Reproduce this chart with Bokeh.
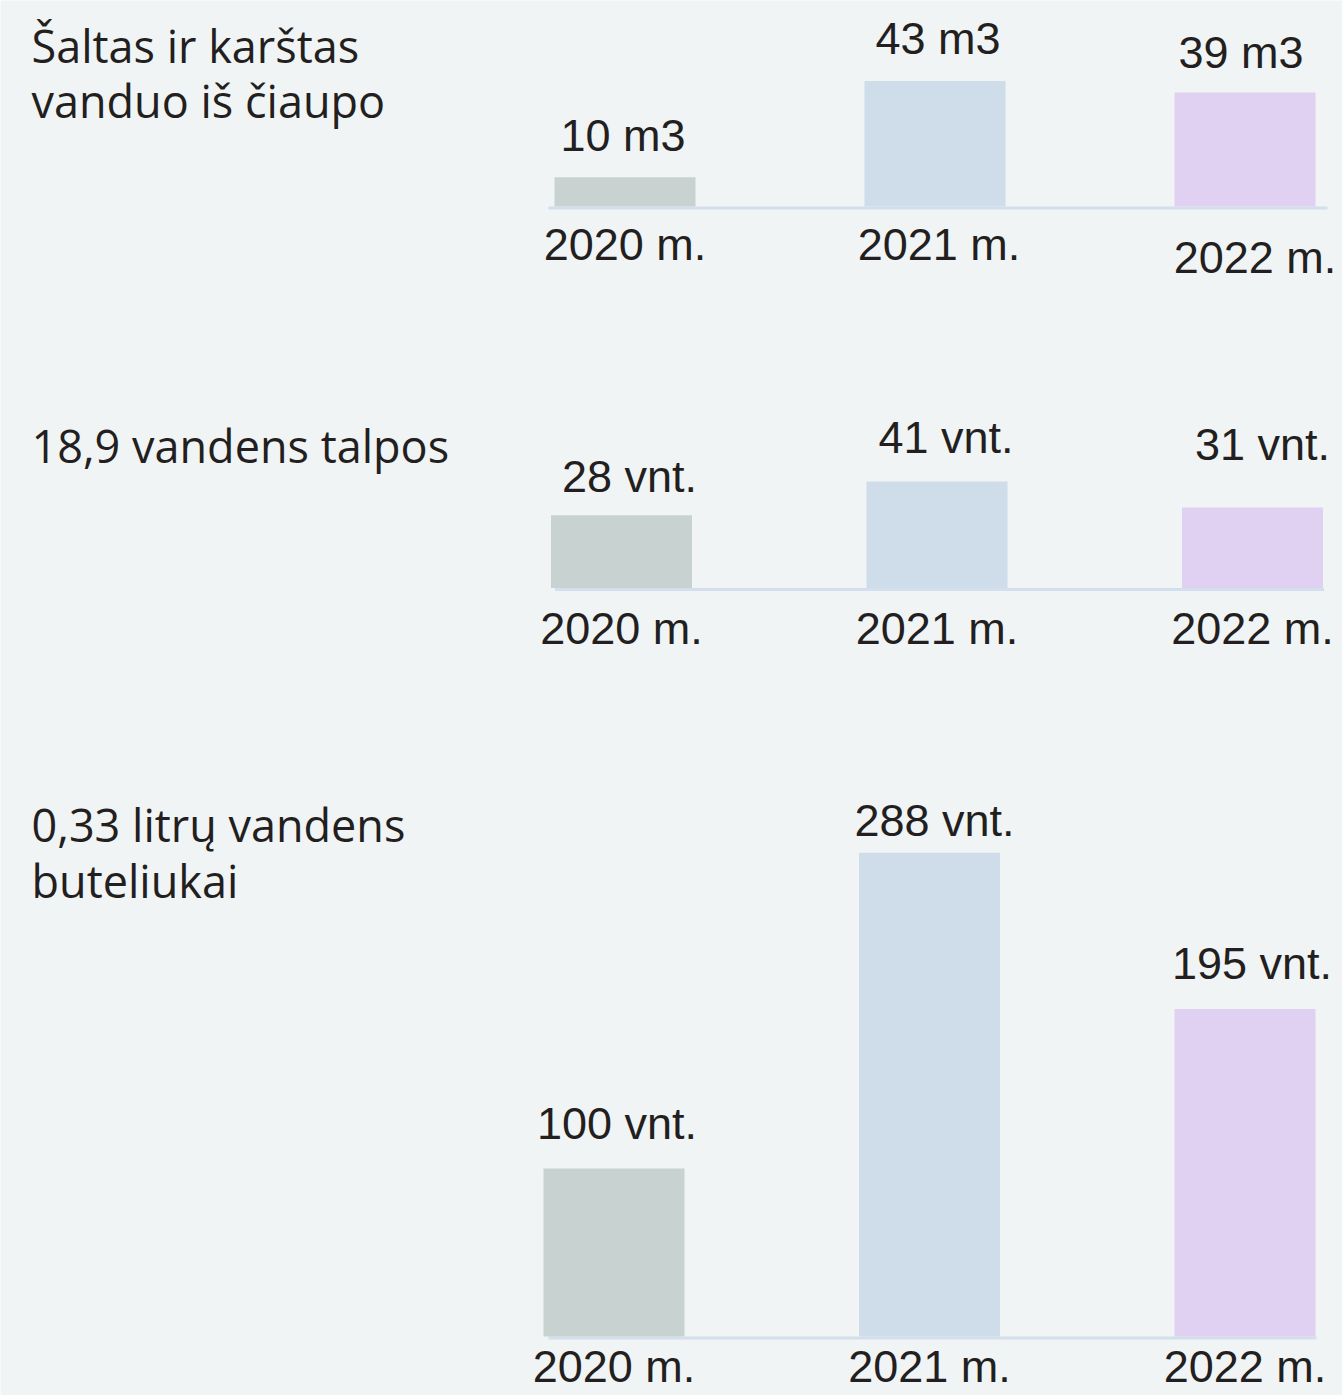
from bokeh.plotting import figure
from bokeh.models import Range1d, Label, ColumnDataSource
from bokeh.core.properties import value
from bokeh.embed import file_html
from bokeh.resources import INLINE

# ---------------- data ----------------
years = ["2020 m.", "2021 m.", "2022 m."]

tap_title = ["Šaltas ir karštas", "vanduo iš čiaupo"]
tap_values = [10, 43, 39]
tap_unit = "m3"

jug_title = ["18,9 vandens talpos"]
jug_values = [28, 41, 31]
jug_unit = "vnt."

bottle_title = ["0,33 litrų vandens", "buteliukai"]
bottle_values = [100, 288, 195]
bottle_unit = "vnt."

# ---------------- style ----------------
BG = "#F1F4F5"
TXT = "#231F20"
BAR_COLORS = ["#C8D2D1", "#CFDCE9", "#E0D0F1"]
LINE_COLOR = "#D3DFEC"
W, H = 1342, 1395
BAR_PX = 141
TITLE_FONT = "Open Sans"
NUM_FONT = "Liberation Sans"
SHIFT = -18  # baseline correction for rendered text

p = figure(width=W, height=H, x_range=Range1d(0, 1), y_range=Range1d(0, 1),
           output_backend="svg", toolbar_location=None,
           x_axis_location=None, y_axis_location=None,
           min_border=0, background_fill_color=BG, border_fill_color=BG,
           outline_line_color=None)
p.grid.visible = False


def panel(name, title_lines, vals, unit, base_top, k, c0, s, title_tops,
          lab_dx, lab_dy, yr_dx, yr_dy, line_px):
    xs0 = -c0 / s
    ys0 = -(H - base_top) / k
    xr, yr_ = "x_" + name, "y_" + name
    p.extra_x_ranges[xr] = Range1d(xs0, xs0 + W / s)
    p.extra_y_ranges[yr_] = Range1d(ys0, ys0 + H / k)

    idx = list(range(len(vals)))
    bw = BAR_PX / s
    src = ColumnDataSource(dict(
        x=idx, v=vals, color=BAR_COLORS,
        lbl=[f"{v} {unit}" for v in vals],
        yr=years,
        ldx=lab_dx, ldy=[d + SHIFT for d in lab_dy],
        ydx=yr_dx, ydy=[d + SHIFT for d in yr_dy],
    ))
    kw = dict(x_range_name=xr, y_range_name=yr_)

    # baseline
    p.segment(x0=[idx[0] - bw / 2 + line_px[0] / s], x1=[idx[-1] + bw / 2 + line_px[1] / s],
              y0=[-1.5 / k], y1=[-1.5 / k], line_color=LINE_COLOR, line_width=3, **kw)

    p.vbar(x="x", top="v", bottom=0, width=bw, fill_color="color",
           line_color=None, source=src, **kw)

    p.text(x="x", y="v", text="lbl", x_offset="ldx", y_offset="ldy",
           text_align="center", text_baseline="alphabetic",
           text_font=value(NUM_FONT), text_font_size="45px",
           text_color=TXT, source=src, **kw)

    p.text(x="x", y=0, text="yr", x_offset="ydx", y_offset="ydy",
           text_align="center", text_baseline="alphabetic",
           text_font=value(NUM_FONT), text_font_size="45px",
           text_color=TXT, source=src, **kw)

    for line, t in zip(title_lines, title_tops):
        p.add_layout(Label(x=31, y=H - t + 18, x_units="screen", y_units="screen",
                           text=line, text_font=TITLE_FONT, text_font_size="45px",
                           text_baseline="alphabetic", text_color=TXT))


panel("tap", tap_title, tap_values, tap_unit, base_top=206, k=2.92,
      c0=624.5, s=310, title_tops=[63, 118],
      lab_dx=[-2, 3, -4], lab_dy=[-24, -24, -22],
      yr_dx=[0, 4, 10], yr_dy=[56, 56, 69], line_px=(-6, 12))

panel("jug", jug_title, jug_values, jug_unit, base_top=587.5, k=2.6,
      c0=621, s=315.5, title_tops=[463],
      lab_dx=[8, 9, 10], lab_dy=[-21, -26, -45], yr_dx=[0, 0, 0],
      yr_dy=[58, 58, 58], line_px=(4, 1))

panel("bottle", bottle_title, bottle_values, bottle_unit, base_top=1336, k=1.68,
      c0=613.5, s=315.5, title_tops=[842, 898],
      lab_dx=[3, 5, 7], lab_dy=[-27, -14, -27], yr_dx=[0, 0, 0],
      yr_dy=[48, 48, 48], line_px=(5, 1))

open("out.html", "w").write(file_html(p, INLINE))
